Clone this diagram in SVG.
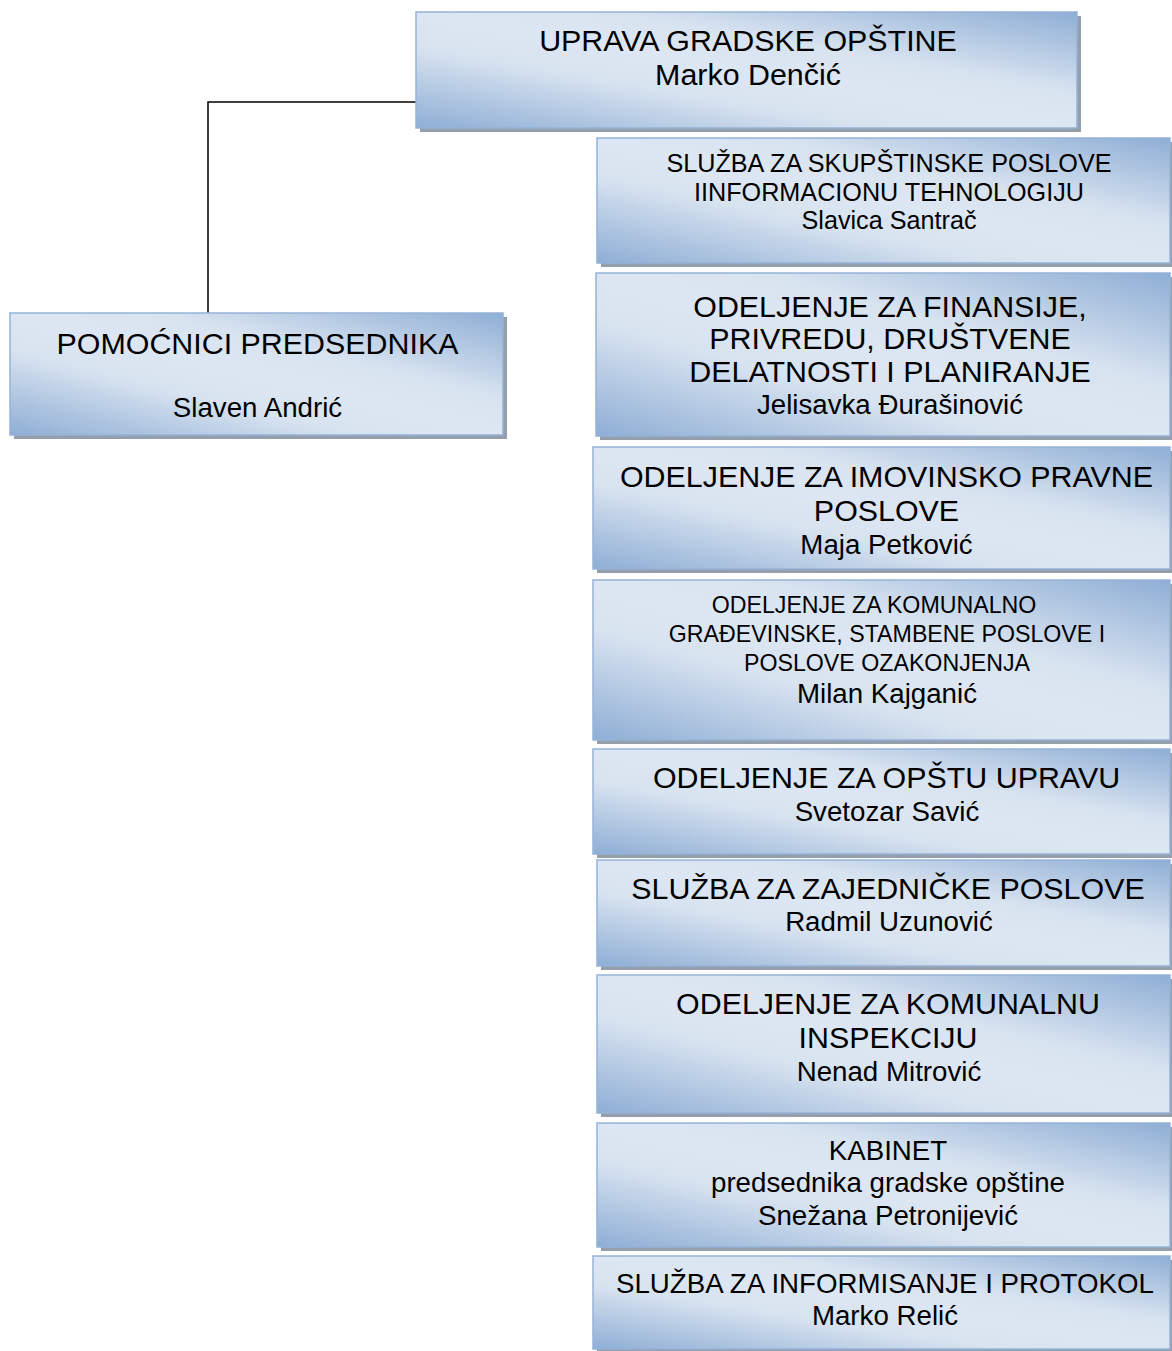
<svg xmlns="http://www.w3.org/2000/svg" width="1172" height="1351" viewBox="0 0 1172 1351">
<style>
  .box { fill: url(#g); stroke: #95b3d7; stroke-width: 1.5; }
  .sh { fill: #959fac; }
  text { font-family: "Liberation Sans", Arial, sans-serif; fill: #000; text-anchor: middle; }
  .t30 { font-size: 30.4px; }
  .t27 { font-size: 27.7px; }
  .t25 { font-size: 25.2px; }
  .t23 { font-size: 23.2px; }
  .conn { fill: none; stroke: #000; stroke-width: 1.5; }
</style>
<defs>
  <linearGradient id="g" x1="0" y1="1" x2="1" y2="0">
    <stop offset="0" stop-color="#8eaed5"/>
    <stop offset="0.12" stop-color="#a7c0de"/>
    <stop offset="0.35" stop-color="#d8e3f0"/>
    <stop offset="0.5" stop-color="#dde7f3"/>
    <stop offset="0.65" stop-color="#d8e3f0"/>
    <stop offset="0.88" stop-color="#a7c0de"/>
    <stop offset="1" stop-color="#8eaed5"/>
  </linearGradient>
</defs>
<rect width="1172" height="1351" fill="#fff"/>

<g id="connectors">
  <polyline class="conn" points="416,102 208,102 208,313"/>
</g>

<g id="uprava">
  <rect class="sh" x="420" y="16" width="661" height="116"/>
  <rect class="box" x="416" y="12" width="661" height="116"/>
  <text class="t30" x="748" y="51">UPRAVA GRADSKE OPŠTINE</text>
  <text class="t30" x="748" y="85">Marko Denčić</text>
</g>

<g id="pomocnici">
  <rect class="sh" x="14" y="317" width="493" height="122"/>
  <rect class="box" x="10" y="313" width="493" height="122"/>
  <text class="t30" x="257.5" y="354">POMOĆNICI PREDSEDNIKA</text>
  <text class="t27" x="257.5" y="417">Slaven Andrić</text>
</g>

<g id="skupstinske">
  <rect class="sh" x="601" y="142" width="573" height="125"/>
  <rect class="box" x="597" y="138" width="573" height="125"/>
  <text class="t25" x="889" y="172">SLUŽBA ZA SKUPŠTINSKE POSLOVE</text>
  <text class="t25" x="889" y="201">IINFORMACIONU TEHNOLOGIJU</text>
  <text class="t25" x="889" y="229">Slavica Santrač</text>
</g>

<g id="finansije">
  <rect class="sh" x="600" y="277" width="574" height="163"/>
  <rect class="box" x="596" y="273" width="574" height="163"/>
  <text class="t30" x="890" y="317">ODELJENJE ZA FINANSIJE,</text>
  <text class="t30" x="890" y="349">PRIVREDU, DRUŠTVENE</text>
  <text class="t30" x="890" y="382">DELATNOSTI I PLANIRANJE</text>
  <text class="t27" x="890" y="414">Jelisavka Đurašinović</text>
</g>

<g id="imovinsko">
  <rect class="sh" x="597" y="451" width="577" height="122"/>
  <rect class="box" x="593" y="447" width="577" height="122"/>
  <text class="t30" x="886.5" y="487">ODELJENJE ZA IMOVINSKO PRAVNE</text>
  <text class="t30" x="886.5" y="521">POSLOVE</text>
  <text class="t27" x="886.5" y="554">Maja Petković</text>
</g>

<g id="komunalno">
  <rect class="sh" x="597" y="584" width="577" height="160"/>
  <rect class="box" x="593" y="580" width="577" height="160"/>
  <text class="t23" x="874" y="613">ODELJENJE ZA KOMUNALNO</text>
  <text class="t23" x="887" y="642">GRAĐEVINSKE, STAMBENE POSLOVE I</text>
  <text class="t23" x="887" y="671">POSLOVE OZAKONJENJA</text>
  <text class="t27" x="887" y="703">Milan Kajganić</text>
</g>

<g id="opsta-uprava">
  <rect class="sh" x="597" y="753" width="577" height="105"/>
  <rect class="box" x="593" y="749" width="577" height="105"/>
  <text class="t30" x="886.5" y="788">ODELJENJE ZA OPŠTU UPRAVU</text>
  <text class="t27" x="887" y="821">Svetozar Savić</text>
</g>

<g id="zajednicke">
  <rect class="sh" x="601" y="864" width="573" height="106"/>
  <rect class="box" x="597" y="860" width="573" height="106"/>
  <text class="t30" x="888" y="899">SLUŽBA ZA ZAJEDNIČKE POSLOVE</text>
  <text class="t27" x="889" y="931">Radmil Uzunović</text>
</g>

<g id="inspekcija">
  <rect class="sh" x="601" y="979" width="573" height="138"/>
  <rect class="box" x="597" y="975" width="573" height="138"/>
  <text class="t30" x="888" y="1014">ODELJENJE ZA KOMUNALNU</text>
  <text class="t30" x="888" y="1048">INSPEKCIJU</text>
  <text class="t27" x="889" y="1081">Nenad Mitrović</text>
</g>

<g id="kabinet">
  <rect class="sh" x="601" y="1127" width="573" height="124"/>
  <rect class="box" x="597" y="1123" width="573" height="124"/>
  <text class="t27" x="888" y="1160">KABINET</text>
  <text class="t27" x="888" y="1192">predsednika gradske opštine</text>
  <text class="t27" x="888" y="1225">Snežana Petronijević</text>
</g>

<g id="informisanje">
  <rect class="sh" x="597" y="1260" width="577" height="93"/>
  <rect class="box" x="593" y="1256" width="577" height="93"/>
  <text class="t27" x="885" y="1293">SLUŽBA ZA INFORMISANJE I PROTOKOL</text>
  <text class="t27" x="885" y="1325">Marko Relić</text>
</g>
</svg>
